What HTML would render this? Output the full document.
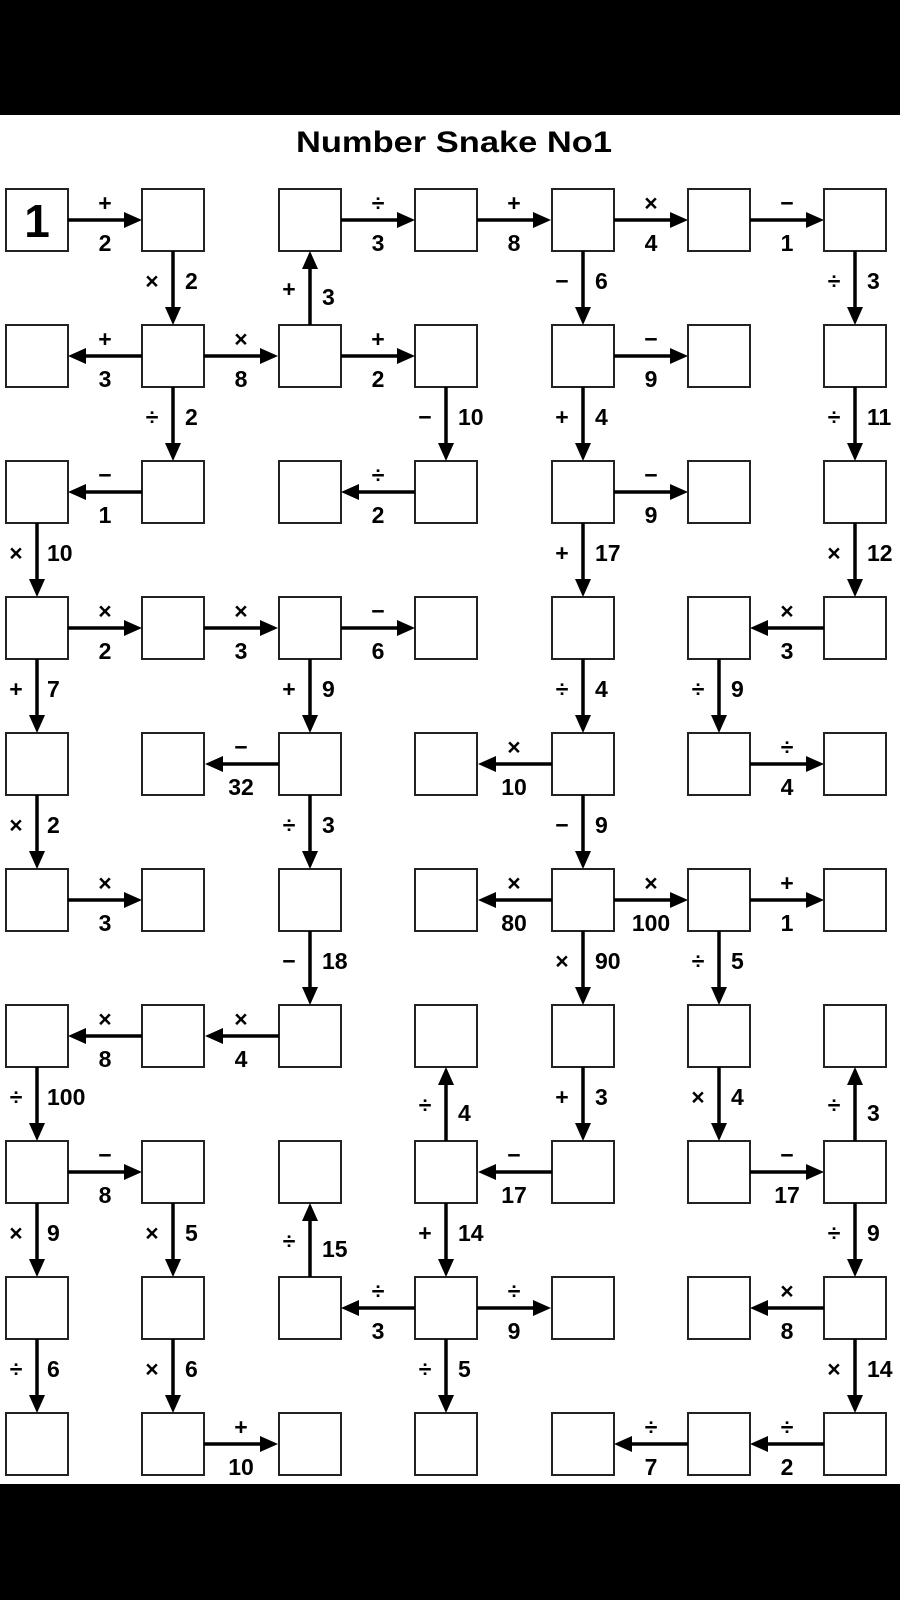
<!DOCTYPE html>
<html><head><meta charset="utf-8"><style>html,body{margin:0;padding:0;background:#000}svg{display:block}</style></head>
<body>
<svg width="900" height="1600" viewBox="0 0 900 1600" xmlns="http://www.w3.org/2000/svg" font-family="Liberation Sans, sans-serif" font-weight="bold" font-size="23">
<defs>
<g id="ar"><line x1="0" y1="0" x2="62" y2="0" stroke="#000" stroke-width="3.5"/><polygon points="56,-8 74,0 56,8" fill="#000"/></g>
<g id="row" fill="#fff" stroke="#222" stroke-width="2">
<rect x="6" y="0" width="62" height="62"/><rect x="142" y="0" width="62" height="62"/><rect x="279" y="0" width="62" height="62"/><rect x="415" y="0" width="62" height="62"/><rect x="552" y="0" width="62" height="62"/><rect x="688" y="0" width="62" height="62"/><rect x="824" y="0" width="62" height="62"/>
</g>
</defs>
<rect x="0" y="0" width="900" height="1600" fill="#000"/>
<rect x="0" y="115" width="900" height="1369" fill="#fff"/>
<text x="454" y="152" font-size="30" text-anchor="middle" textLength="316" lengthAdjust="spacingAndGlyphs">Number Snake No1</text>
<use href="#row" y="189"/><use href="#row" y="325"/><use href="#row" y="461"/><use href="#row" y="597"/><use href="#row" y="733"/><use href="#row" y="869"/><use href="#row" y="1005"/><use href="#row" y="1141"/><use href="#row" y="1277"/><use href="#row" y="1413"/>
<text x="37" y="237" font-size="46" text-anchor="middle">1</text>

<use href="#ar" transform="translate(68,220)"/>
<use href="#ar" transform="translate(341,220)"/>
<use href="#ar" transform="translate(477,220)"/>
<use href="#ar" transform="translate(614,220)"/>
<use href="#ar" transform="translate(750,220)"/>
<use href="#ar" transform="translate(142,356) scale(-1,1)"/>
<use href="#ar" transform="translate(204,356)"/>
<use href="#ar" transform="translate(341,356)"/>
<use href="#ar" transform="translate(614,356)"/>
<use href="#ar" transform="translate(142,492) scale(-1,1)"/>
<use href="#ar" transform="translate(415,492) scale(-1,1)"/>
<use href="#ar" transform="translate(614,492)"/>
<use href="#ar" transform="translate(68,628)"/>
<use href="#ar" transform="translate(204,628)"/>
<use href="#ar" transform="translate(341,628)"/>
<use href="#ar" transform="translate(824,628) scale(-1,1)"/>
<use href="#ar" transform="translate(279,764) scale(-1,1)"/>
<use href="#ar" transform="translate(552,764) scale(-1,1)"/>
<use href="#ar" transform="translate(750,764)"/>
<use href="#ar" transform="translate(68,900)"/>
<use href="#ar" transform="translate(552,900) scale(-1,1)"/>
<use href="#ar" transform="translate(614,900)"/>
<use href="#ar" transform="translate(750,900)"/>
<use href="#ar" transform="translate(142,1036) scale(-1,1)"/>
<use href="#ar" transform="translate(279,1036) scale(-1,1)"/>
<use href="#ar" transform="translate(68,1172)"/>
<use href="#ar" transform="translate(552,1172) scale(-1,1)"/>
<use href="#ar" transform="translate(750,1172)"/>
<use href="#ar" transform="translate(415,1308) scale(-1,1)"/>
<use href="#ar" transform="translate(477,1308)"/>
<use href="#ar" transform="translate(824,1308) scale(-1,1)"/>
<use href="#ar" transform="translate(204,1444)"/>
<use href="#ar" transform="translate(688,1444) scale(-1,1)"/>
<use href="#ar" transform="translate(824,1444) scale(-1,1)"/>

<g text-anchor="middle">
<text x="105" y="211">+</text><text x="105" y="251">2</text>
<text x="378" y="211">÷</text><text x="378" y="251">3</text>
<text x="514" y="211">+</text><text x="514" y="251">8</text>
<text x="651" y="211">×</text><text x="651" y="251">4</text>
<text x="787" y="211">−</text><text x="787" y="251">1</text>
<text x="105" y="347">+</text><text x="105" y="387">3</text>
<text x="241" y="347">×</text><text x="241" y="387">8</text>
<text x="378" y="347">+</text><text x="378" y="387">2</text>
<text x="651" y="347">−</text><text x="651" y="387">9</text>
<text x="105" y="483">−</text><text x="105" y="523">1</text>
<text x="378" y="483">÷</text><text x="378" y="523">2</text>
<text x="651" y="483">−</text><text x="651" y="523">9</text>
<text x="105" y="619">×</text><text x="105" y="659">2</text>
<text x="241" y="619">×</text><text x="241" y="659">3</text>
<text x="378" y="619">−</text><text x="378" y="659">6</text>
<text x="787" y="619">×</text><text x="787" y="659">3</text>
<text x="241" y="755">−</text><text x="241" y="795">32</text>
<text x="514" y="755">×</text><text x="514" y="795">10</text>
<text x="787" y="755">÷</text><text x="787" y="795">4</text>
<text x="105" y="891">×</text><text x="105" y="931">3</text>
<text x="514" y="891">×</text><text x="514" y="931">80</text>
<text x="651" y="891">×</text><text x="651" y="931">100</text>
<text x="787" y="891">+</text><text x="787" y="931">1</text>
<text x="105" y="1027">×</text><text x="105" y="1067">8</text>
<text x="241" y="1027">×</text><text x="241" y="1067">4</text>
<text x="105" y="1163">−</text><text x="105" y="1203">8</text>
<text x="514" y="1163">−</text><text x="514" y="1203">17</text>
<text x="787" y="1163">−</text><text x="787" y="1203">17</text>
<text x="378" y="1299">÷</text><text x="378" y="1339">3</text>
<text x="514" y="1299">÷</text><text x="514" y="1339">9</text>
<text x="787" y="1299">×</text><text x="787" y="1339">8</text>
<text x="241" y="1435">+</text><text x="241" y="1475">10</text>
<text x="651" y="1435">÷</text><text x="651" y="1475">7</text>
<text x="787" y="1435">÷</text><text x="787" y="1475">2</text>
</g>

<use href="#ar" transform="translate(173,251) rotate(90)"/>
<use href="#ar" transform="translate(310,325) rotate(-90)"/>
<use href="#ar" transform="translate(583,251) rotate(90)"/>
<use href="#ar" transform="translate(855,251) rotate(90)"/>
<use href="#ar" transform="translate(173,387) rotate(90)"/>
<use href="#ar" transform="translate(446,387) rotate(90)"/>
<use href="#ar" transform="translate(583,387) rotate(90)"/>
<use href="#ar" transform="translate(855,387) rotate(90)"/>
<use href="#ar" transform="translate(37,523) rotate(90)"/>
<use href="#ar" transform="translate(583,523) rotate(90)"/>
<use href="#ar" transform="translate(855,523) rotate(90)"/>
<use href="#ar" transform="translate(37,659) rotate(90)"/>
<use href="#ar" transform="translate(310,659) rotate(90)"/>
<use href="#ar" transform="translate(583,659) rotate(90)"/>
<use href="#ar" transform="translate(719,659) rotate(90)"/>
<use href="#ar" transform="translate(37,795) rotate(90)"/>
<use href="#ar" transform="translate(310,795) rotate(90)"/>
<use href="#ar" transform="translate(583,795) rotate(90)"/>
<use href="#ar" transform="translate(310,931) rotate(90)"/>
<use href="#ar" transform="translate(583,931) rotate(90)"/>
<use href="#ar" transform="translate(719,931) rotate(90)"/>
<use href="#ar" transform="translate(37,1067) rotate(90)"/>
<use href="#ar" transform="translate(446,1141) rotate(-90)"/>
<use href="#ar" transform="translate(583,1067) rotate(90)"/>
<use href="#ar" transform="translate(719,1067) rotate(90)"/>
<use href="#ar" transform="translate(855,1141) rotate(-90)"/>
<use href="#ar" transform="translate(37,1203) rotate(90)"/>
<use href="#ar" transform="translate(173,1203) rotate(90)"/>
<use href="#ar" transform="translate(310,1277) rotate(-90)"/>
<use href="#ar" transform="translate(446,1203) rotate(90)"/>
<use href="#ar" transform="translate(855,1203) rotate(90)"/>
<use href="#ar" transform="translate(37,1339) rotate(90)"/>
<use href="#ar" transform="translate(173,1339) rotate(90)"/>
<use href="#ar" transform="translate(446,1339) rotate(90)"/>
<use href="#ar" transform="translate(855,1339) rotate(90)"/>

<g text-anchor="middle">
<text x="152" y="289">×</text><text x="289" y="297">+</text><text x="562" y="289">−</text><text x="834" y="289">÷</text>
<text x="152" y="425">÷</text><text x="425" y="425">−</text><text x="562" y="425">+</text><text x="834" y="425">÷</text>
<text x="16" y="561">×</text><text x="562" y="561">+</text><text x="834" y="561">×</text>
<text x="16" y="697">+</text><text x="289" y="697">+</text><text x="562" y="697">÷</text><text x="698" y="697">÷</text>
<text x="16" y="833">×</text><text x="289" y="833">÷</text><text x="562" y="833">−</text>
<text x="289" y="969">−</text><text x="562" y="969">×</text><text x="698" y="969">÷</text>
<text x="16" y="1105">÷</text><text x="425" y="1113">÷</text><text x="562" y="1105">+</text><text x="698" y="1105">×</text><text x="834" y="1113">÷</text>
<text x="16" y="1241">×</text><text x="152" y="1241">×</text><text x="289" y="1249">÷</text><text x="425" y="1241">+</text><text x="834" y="1241">÷</text>
<text x="16" y="1377">÷</text><text x="152" y="1377">×</text><text x="425" y="1377">÷</text><text x="834" y="1377">×</text>
</g>
<g text-anchor="start">
<text x="185" y="289">2</text><text x="322" y="305">3</text><text x="595" y="289">6</text><text x="867" y="289">3</text>
<text x="185" y="425">2</text><text x="458" y="425">10</text><text x="595" y="425">4</text><text x="867" y="425">11</text>
<text x="47" y="561">10</text><text x="595" y="561">17</text><text x="867" y="561">12</text>
<text x="47" y="697">7</text><text x="322" y="697">9</text><text x="595" y="697">4</text><text x="731" y="697">9</text>
<text x="47" y="833">2</text><text x="322" y="833">3</text><text x="595" y="833">9</text>
<text x="322" y="969">18</text><text x="595" y="969">90</text><text x="731" y="969">5</text>
<text x="47" y="1105">100</text><text x="458" y="1121">4</text><text x="595" y="1105">3</text><text x="731" y="1105">4</text><text x="867" y="1121">3</text>
<text x="47" y="1241">9</text><text x="185" y="1241">5</text><text x="322" y="1257">15</text><text x="458" y="1241">14</text><text x="867" y="1241">9</text>
<text x="47" y="1377">6</text><text x="185" y="1377">6</text><text x="458" y="1377">5</text><text x="867" y="1377">14</text>
</g>
</svg>
</body></html>
